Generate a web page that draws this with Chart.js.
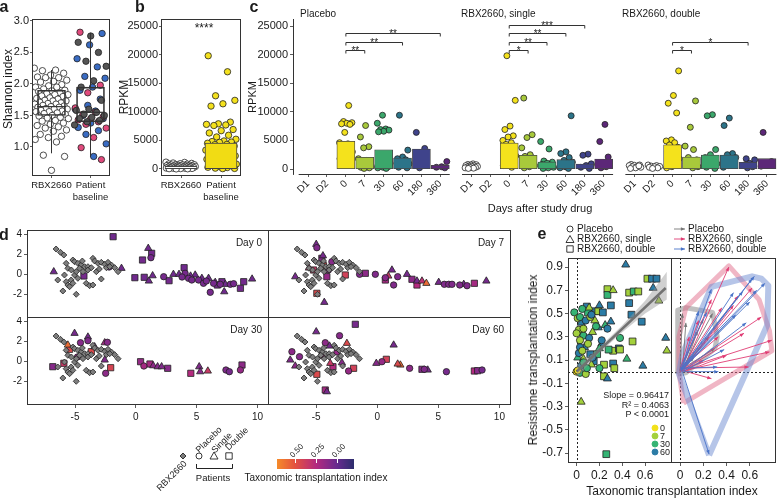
<!DOCTYPE html>
<html>
<head>
<meta charset="utf-8">
<title>RBX2660 resistome figure</title>
<script src="https://cdn.jsdelivr.net/npm/chart.js@4.4.1/dist/chart.umd.min.js"></script>
<style>
	body { margin: 0; width: 778px; height: 498px; position: relative; overflow: hidden; background: #fff; font-family: "Liberation Sans", Arial, sans-serif; color: #1a1a1a; }
	canvas { position: absolute; }
	.lbl { position: absolute; white-space: nowrap; line-height: 1; }
</style>
</head>
<body>
<script>
// ---------- panel a : Shannon index ----------
const aGroups = ['RBX2660', ['Patient', 'baseline']];
const aTicks = [1.0, 1.5, 2.0, 2.5, 3.0];
const aRbx = [2.25,2.22,2.21,2.17,2.14,2.11,2.1,2.1,2.06,2.04,2.03,1.99,1.97,1.95,1.95,1.92,1.9,1.89,1.88,1.86,1.85,1.83,1.83,1.81,1.8,1.78,1.77,1.76,1.74,1.73,1.73,1.71,1.7,1.69,1.68,1.68,1.66,1.65,1.64,1.63,1.63,1.61,1.6,1.6,1.58,1.57,1.56,1.56,1.54,1.53,1.52,1.5,1.49,1.47,1.46,1.45,1.42,1.41,1.38,1.36,1.34,1.32,1.3,1.27,1.25,1.2,1.17,1.15,1.12,1.08,0.87,0.85,0.63];
const aBlue = [2.8,2.62,2.4,2.27,2.12,2.09,1.95,1.9,1.76,1.66,1.6,1.57,1.5,1.45,1.38,1.31,1.26,1.2,1.05,0.85];
const aPink = [2.82,1.98,1.86,1.62,1.55,1.52,1.48,1.45,1.43,1.4,1.36,1.3,1.15,0.99,0.8];
const aGray = [2.76,2.66,2.5,2.36,2.28,2.05,1.95,1.74,1.6,1.58,1.55,1.52,1.5,1.47,1.45,1.42,1.4,1.35];
const aLow = [0.9, 0.84], aQ1 = [1.5, 1.4], aMed = [1.64, 1.55], aQ3 = [1.9, 1.95], aHigh = [2.22, 2.81];

// ---------- panel b : RPKM ----------
const bTicks = [0, 5000, 10000, 15000, 20000, 25000];
const bMeans = [450, 4545];
const bRbx = [1200,1150,1050,980,920,880,850,790,760,720,700,660,640,610,590,560,540,520,500,480,460,430,410,400,380,350,330,310,290,270,250,230,200,180,160,140,120,100,80,60,40,20];
const bPatient = [19800,17000,12800,12000,11400,11000,8200,7900,7800,7700,7600,6900,6700,6300,5900,5600,5200,4900,4800,4700,4650,4500,4300,4250,4000,3900,3750,3600,3550,3300,3200,3100,2900,2850,2700,2500,2450,2300,2150,2000,1950,1800,1700,1500,1450,1300,1200,1150,1000,900,850,700,600,550,400,300,250,150,100,60];

// ---------- panel c : RPKM over time ----------
const cFacets = ['Placebo', 'RBX2660, single', 'RBX2660, double'];
const cDays = ['D1', 'D2', '0', '7', '30', '60', '180', '360'];
const cDayColors = ['#ffffff', '#ffffff', '#f4e21c', '#a8c93b', '#3ba76b', '#2c7489', '#3f438b', '#5c2778'];
const cBarMeans = [
	[null, null, 4830, 2030, 3370, 1920, 3490, 640],
	[null, null, 4530, 2380, 1220, 1630, 870, 1740],
	[null, null, 4240, 2090, 2440, 2440, 1160, 1800]
];
const cPlacebo = [
	[], [],
	[11100,8300,8100,8000,7900,7800,6400,4600,4400,4200,4000,3800,3600,3300,3200,3000,2700,2500,2300,2000,1800,1600],
	[7600,5600,3900,3700,1800,1500,1300,1100,1000,900,800,600,500,400,300,200,100],
	[9400,8000,7000,6900,6800,6600,6500,1500,1300,1000,800,600,400,300,200,100],
	[9400,3300,2100,1800,1600,1200,900,600,300,200],
	[6400,3600,200],
	[1300,400,300,200]
];
const cSingle = [
	[900,800,750,700,600,550,500,450,400,350,300,250,200,150,100],
	[],
	[19800,12000,7500,6900,5800,5600,5000,4600,4300,4000,3700,3400,3000,2700,2300,2000,1600,1200,900,600,300],
	[12400,6000,5500,3700,2500,2200,1900,1600,1300,1000,800,600,400,200],
	[4800,3500,1400,1200,1000,800,700,500,300,200,100],
	[9300,3000,2700,2000,1500,1200,1000,800,600,400,200,100],
	[2600,2400,900,600,300,100],
	[7800,4800,2100,1000,700,400,200]
];
const cDouble = [
	[800,700,650,600,500,400,300,200,100,550],
	[700,600,500,450,400,300,200,100],
	[17150,12850,11500,9800,5100,4900,4600,4200,3800,3500,3000,2600,2200,1800,1400,1000,700,400,200],
	[11900,7300,4000,3400,2000,1600,1300,1000,800,600,400,200],
	[9500,9300,3400,2500,2000,1600,1200,900,600,300,100],
	[8900,7600,2700,2500,2000,1600,1200,900,600,300],
	[1800,1600,1000,700,400,200],
	[6400,1300,900,500]
];
const cBrFacet = [0, 0, 0, 1, 1, 1, 1, 2, 2];
const cBrDay = ['7', '60', '360', '7', '30', '60', '180', '7', '180'];
const cBrY = [20800, 22200, 23700, 20800, 22200, 23700, 25100, 20800, 22200];
const cBrStars = ['**', '**', '**', '*', '**', '**', '***', '*', '*'];

// ---------- panel d : ordination, [x, y, group, taxonomic transplantation index] ----------
const dRbx = [[-6.56,2.5],[-6.2,2.17],[-5.92,1.9],[-5.73,1.07],[-5.59,0.57],[-5.18,1.4],[-5.04,1.23],[-4.77,1.07],[-4.49,0.9],[-4.21,0.73],[-3.94,0.73],[-3.53,1.57],[-3.39,1.3],[-3.11,1.07],[-2.84,1.17],[-2.56,0.97],[-2.29,1.17],[-2.01,0.9],[-1.74,0.63],[-1.46,0.23],[-5.87,-0.1],[-5.73,-0.77],[-5.59,-1.1],[-6.0,-1.7],[-5.32,-0.6],[-5.04,-0.1],[-4.9,0.23],[-4.77,-0.43],[-4.63,0.57],[-4.35,0.23],[-4.08,-0.93],[-3.8,-1.17],[-3.53,-1.1],[-4.9,-2.03],[-2.84,-0.5],[-3.25,0.23],[-6.42,-0.6],[-5.45,-1.27],[-5.18,-0.93],[-3.94,0.4],[-3.66,0.63],[-2.42,0.63],[-2.15,0.73],[-4.4,1.3],[-3.0,0.5],[-5.3,0.4]];
const dDay0 = [[-1.87,3.73,'D',0.03],[-6.75,0.23,'S',0.03],[-4.27,-0.2,'D',0.05],[-1.18,0.57,'S',0.03],[-2.2,0.7,'P',0.05],[1.02,2.57,'S',0.03],[1.24,1.63,'P',0.05],[1.3,2.07,'D',0.04],[0.55,1.4,'D',0.04],[-0.08,-0.37,'D',0.03],[0.69,-0.33,'D',0.03],[1.38,-0.17,'S',0.03],[1.07,-0.7,'S',0.03],[2.29,-0.27,'P',0.05],[2.73,-0.67,'D',0.04],[3.09,-0.03,'S',0.03],[3.55,-0.03,'S',0.03],[3.97,0.63,'D',0.03],[4.05,0.07,'P',0.05],[4.33,-0.43,'P',0.05],[4.6,-0.6,'P',0.05],[4.88,-0.1,'S',0.03],[5.15,-0.6,'P',0.05],[5.43,-0.43,'S',0.03],[5.98,-0.43,'S',0.03],[5.56,-0.93,'P',0.05],[6.12,-1.83,'P',0.05],[6.39,-0.93,'P',0.05],[6.53,-0.83,'S',0.03],[6.94,-1.03,'P',0.05],[7.08,-0.77,'D',0.04],[7.27,-1.77,'S',0.03],[7.36,-1.03,'S',0.03],[7.77,-1.03,'P',0.05],[8.04,-0.97,'P',0.05],[8.6,-1.43,'D',0.04],[8.87,-0.77,'D',0.04],[9.56,-0.5,'S',0.03],[4.5,-0.2,'S',0.03],[5.8,-0.7,'P',0.05],[6.7,-1.1,'D',0.04],[3.8,-0.3,'P',0.05]];
const dDay7 = [[-5.0,2.97,'S',0.05],[-4.95,2.63,'P',0.08],[-6.72,-0.27,'S',0.05],[-4.45,1.83,'S',0.05],[-4.54,1.57,'D',0.1],[-5.22,0.4,'D',0.35],[-4.13,-0.27,'D',0.15],[-2.62,-0.1,'D',0.4],[-4.4,0.83,'D',0.45],[-3.72,1.23,'P',0.1],[-4.95,-1.93,'D',0.45],[-4.34,-2.83,'S',0.05],[-4.0,0.4,'P',0.1],[-5.6,0.6,'S',0.3],[-1.45,-0.03,'P',0.08],[-0.98,0.07,'D',0.12],[-0.16,-0.03,'P',0.08],[1.2,0.4,'S',0.05],[0.66,-0.37,'P',0.1],[0.66,-0.6,'D',0.2],[0.9,-0.2,'S',0.35],[1.34,-1.1,'P',0.08],[1.67,-0.27,'P',0.08],[2.43,-0.03,'S',0.05],[2.84,-0.53,'D',0.12],[3.25,-0.7,'S',0.05],[3.25,-1.1,'D',0.25],[3.66,-0.7,'S',0.3],[4.02,-0.93,'S',0.6],[5.03,-0.83,'S',0.05],[5.49,-1.03,'P',0.08],[5.85,-1.03,'P',0.08],[6.12,-1.03,'P',0.08],[6.75,-1.1,'P',0.08],[7.08,-1.03,'S',0.05],[7.35,-1.17,'P',0.08],[7.95,-0.93,'D',0.2],[8.93,-0.7,'S',0.05]];
const dDay30 = [[-5.04,2.77,'S',0.05],[-3.94,2.4,'S',0.05],[-3.94,2.03,'P',0.08],[-4.55,1.83,'P',0.1],[-2.56,1.83,'S',0.2],[-2.34,1.87,'P',0.1],[-5.59,1.6,'S',0.6],[-5.45,1.17,'D',0.45],[-6.83,-0.57,'D',0.1],[-5.92,-0.23,'D',0.35],[-2.56,0.1,'S',0.08],[-2.07,-0.67,'D',0.42],[-2.48,-1.23,'P',0.12],[-3.66,0.93,'D',0.45],[-3.39,1.43,'S',0.05],[-4.8,0.4,'P',0.15],[0.39,-0.07,'D',0.15],[0.66,-0.5,'P',0.2],[1.16,-0.3,'D',0.2],[1.43,-0.47,'S',0.12],[1.79,-0.57,'S',0.1],[2.12,-0.57,'S',0.08],[2.62,-0.73,'D',0.1],[4.52,-1.23,'D',0.25],[5.21,-0.57,'S',0.08],[5.29,-1.07,'S',0.1],[5.92,-1.0,'S',0.35],[7.41,-0.9,'P',0.08],[7.69,-1.07,'P',0.05],[8.73,-0.4,'D',0.12],[8.6,-0.9,'P',0.15]];
const dDay60 = [[-1.8,3.67,'D',0.05],[-5.0,2.93,'S',0.05],[-3.09,2.53,'P',0.1],[-6.99,0.93,'P',0.12],[-7.13,0.1,'S',0.08],[-6.72,-0.5,'S',0.12],[-6.37,0.43,'P',0.1],[-4.26,1.83,'P',0.12],[-3.91,1.5,'S',0.05],[-2.49,1.77,'S',0.45],[-4.95,-1.33,'D',0.45],[-4.26,-2.9,'D',0.2],[-4.13,-3.07,'S',0.05],[-2.9,-0.17,'S',0.1],[-1.94,-0.73,'D',0.4],[-2.35,-1.0,'P',0.15],[-3.63,-0.57,'D',0.25],[-3.85,-0.23,'S',0.35],[-4.5,0.6,'D',0.2],[-3.3,0.9,'P',0.15],[1.34,1.6,'S',0.05],[-0.08,-0.23,'S',0.1],[0.38,-0.07,'P',0.15],[0.74,0.17,'D',0.4],[1.89,-0.4,'S',0.6],[1.67,-0.3,'S',0.45],[2.65,-0.73,'P',0.12],[3.66,-0.83,'D',0.1],[3.85,-0.83,'P',0.08],[4.13,-0.9,'S',0.05],[5.66,-1.07,'P',0.05],[7.95,-1.0,'D',0.25],[8.22,-0.97,'D',0.1],[8.58,-0.9,'P',0.05]];
const dDayNames = ['Day 0', 'Day 7', 'Day 30', 'Day 60'];
const dXTicks = [-5, 0, 5, 10];
const dYTicks = [-2, 0, 2, 4];
const ttiStops = [[0.71, '#f58b2a'], [0.5, '#e4523f'], [0.25, '#b42a7f'], [0.0, '#672a8f'], [-0.2, '#2c2d6d']];
const ttiTicks = [0.5, 0.25, 0.0];

// ---------- panel e : transplantation indices, [taxonomic, resistome, group, day] ----------
const eDays = [0, 7, 30, 60];
const eDayColors = ['#f2e11a', '#a3d03c', '#35b474', '#2b7ca6'];
const ePts = [[0.43,0.92,'S',60],[0.62,0.80,'D',7],[0.66,0.80,'D',60],[0.27,0.71,'D',7],[0.32,0.70,'S',7],[0.27,0.66,'D',30],[0.46,0.68,'D',7],[0.50,0.69,'D',30],[0.54,0.69,'D',7],[0.67,0.72,'S',60],[0.70,0.80,'D',60],[0.72,0.61,'S',7],[-0.02,0.51,'P',30],[0.05,0.54,'P',30],[0.20,0.57,'S',60],[0.16,0.52,'D',60],[0.19,0.52,'D',7],[0.23,0.51,'D',60],[0.30,0.57,'D',60],[0.01,0.46,'P',7],[0.03,0.47,'P',30],[0.08,0.44,'P',60],[0.12,0.47,'P',7],[0.16,0.44,'S',7],[0.17,0.39,'P',30],[0.25,0.40,'S',30],[0.27,0.37,'P',60],[0.19,0.38,'S',60],[0.46,0.59,'D',60],[0.48,0.49,'D',60],[0.57,0.43,'D',60],[0.02,0.36,'P',7],[0.00,0.33,'P',7],[0.06,0.31,'P',30],[0.11,0.29,'P',60],[0.14,0.34,'S',7],[0.03,0.27,'P',7],[0.38,0.29,'P',30],[0.78,0.29,'S',60],[0.79,0.18,'S',7],[0.49,0.26,'D',7],[0.44,0.11,'S',30],[0.58,0.05,'S',60],[0.00,0.00,'P',0],[0.03,-0.01,'P',30],[0.08,-0.02,'P',7],[0.04,0.05,'P',60],[0.06,0.08,'P',30],[0.02,0.16,'P',60],[0.15,0.09,'D',60],[0.04,-0.26,'S',7],[0.26,-0.71,'D',30],[0.24,-0.04,'D',7],[0.27,-0.06,'S',60],[0.24,0.06,'D',7],[0.32,0.07,'D',60],[0.32,0.18,'D',7],[0.37,0.20,'D',60],[0.38,0.19,'D',7],[0.20,0.03,'P',30],[0.03,0.21,'P',60],[0.07,0.21,'S',60],[0.10,0.24,'P',7],[0.01,0.12,'S',30],[0.12,0.15,'D',60],[0.09,0.03,'P',30],[0.13,0.06,'S',7],[0.18,0.15,'D',30],[0.14,0.12,'P',60],[0.22,0.24,'S',60],[0.05,0.18,'P',7],[0.01,0.01,'P',0],[0.09,0.56,'D',60],[0.11,0.55,'S',7],[0.13,0.49,'P',60],[0.10,0.51,'D',30],[0.04,0.42,'S',60],[0.06,0.37,'P',7],[0.20,0.20,'S',30],[0.28,0.19,'D',30],[0.22,0.27,'P',60],[0.30,0.43,'S',60],[0.33,0.03,'D',7],[0.06,0.11,'S',7]];
const eYTicks = [-0.7, -0.5, -0.3, -0.1, 0.1, 0.3, 0.5, 0.7, 0.9];
const eXTicks = [0, 0.2, 0.4, 0.6];
const eFitX = [0, 0.78], eFitY = [0.0, 0.72];
const eBandX = [0, 0.2, 0.4, 0.6, 0.79];
const eBandLo = [-0.05, 0.16, 0.34, 0.5, 0.62];
const eBandHi = [0.05, 0.21, 0.4, 0.61, 0.86];
const eArrP = [[0.01,0.01,0.28,0.50],[0.0,0.02,0.25,0.30],[0.02,0.0,0.05,0.42],[0.0,0.0,0.02,0.50],[0.01,0.02,0.30,0.20],[0.03,0.01,0.15,0.35],[0.0,0.01,0.20,0.45],[0.02,0.03,0.12,0.12]];
const eArrS = [[0.02,0.0,0.42,0.90],[0.01,0.02,0.79,0.27],[0.03,0.01,0.77,0.17],[0.0,0.03,0.59,0.04],[0.02,0.01,0.27,-0.06],[0.01,0.0,0.50,0.65],[0.03,0.02,0.46,0.57],[0.0,0.01,0.27,0.62],[0.02,0.02,0.62,0.72],[0.04,0.0,0.40,0.14],[0.01,0.03,0.33,0.30],[0.0,0.0,0.16,0.44],[0.02,0.01,0.55,0.33],[0.03,0.0,0.20,0.10],[0.01,0.01,0.70,0.47],[0.02,0.03,0.36,0.55],[0.0,0.02,0.08,0.30]];
const eArrD = [[0.02,0.0,0.25,-0.71],[0.01,0.01,0.73,0.76],[0.0,0.02,0.64,0.82],[0.03,0.01,0.57,0.42],[0.02,0.03,0.32,0.04],[0.01,0.0,0.27,0.71],[0.02,0.01,0.46,0.68],[0.0,0.01,0.54,0.69],[0.03,0.02,0.62,0.80],[0.01,0.02,0.48,0.49],[0.02,0.0,0.38,0.19],[0.0,0.03,0.23,0.51],[0.01,0.01,0.16,0.52],[0.03,0.0,0.33,0.0],[0.02,0.02,0.60,0.60],[0.01,0.03,0.66,0.70]];
const eHullP = [[-0.02,-0.02],[-0.02,0.53],[0.05,0.55],[0.28,0.51],[0.32,0.3],[0.3,0.2],[0.05,-0.01],[-0.02,-0.02]];
const eHullS = [[0.03,-0.27],[0.79,0.18],[0.77,0.35],[0.68,0.62],[0.42,0.91],[0.05,0.55],[-0.01,0.3],[-0.01,0.0],[0.03,-0.27]];
const eHullD = [[0.25,-0.72],[0.75,0.4],[0.76,0.74],[0.7,0.8],[0.62,0.82],[0.27,0.73],[0.02,0.15],[-0.01,-0.02],[0.25,-0.72]];

// ---------- helpers ----------
const FONT = '"Liberation Sans", Arial, sans-serif';
Chart.defaults.font.family = FONT;
Chart.defaults.color = '#1a1a1a';
const FACET = 8.65;
const shapeOf = { P: 'circle', S: 'triangle', D: 'rect' };

// spread points sideways inside a category (positional only)
function spread(i, w, seed) {
	return ((((i + (seed || 0)) * 0.618034) % 1) - 0.5) * w;
}

function hexRgb(h) {
	return [1, 3, 5].map(k => parseInt(h.substr(k, 2), 16));
}

function ttiColor(v) {
	for (let k = 0; k < ttiStops.length - 1; k++) {
		const [v0, c0] = ttiStops[k], [v1, c1] = ttiStops[k + 1];
		if (v <= v0 && v >= v1) {
			const t = (v0 - v) / (v0 - v1), a = hexRgb(c0), b = hexRgb(c1);
			return 'rgb(' + a.map((x, j) => Math.round(x + (b[j] - x) * t)).join(',') + ')';
		}
	}
	return v > ttiStops[0][0] ? ttiStops[0][1] : ttiStops[ttiStops.length - 1][1];
}

function place(l, t, w, h) {
	const c = document.createElement('canvas');
	c.width = w; c.height = h;
	c.style.left = l + 'px'; c.style.top = t + 'px';
	c.style.width = w + 'px'; c.style.height = h + 'px';
	document.body.appendChild(c);
	return c.getContext('2d');
}

function label(text, x, y, size, opts) {
	const o = opts || {};
	const d = document.createElement('div');
	d.className = 'lbl';
	d.textContent = text;
	d.style.fontSize = size + 'px';
	if (o.bold) d.style.fontWeight = 'bold';
	if (o.color) d.style.color = o.color;
	d.style.left = x + 'px';
	d.style.top = y + 'px';
	const ax = o.align === 'left' ? '0' : o.align === 'right' ? '-100%' : '-50%';
	d.style.transform = 'translate(' + ax + ',-50%) rotate(' + (o.rot || 0) + 'deg)';
	document.body.appendChild(d);
}

function shape(ctx, kind, x, y, r, fill, stroke) {
	ctx.save();
	ctx.fillStyle = fill; ctx.strokeStyle = stroke; ctx.lineWidth = 0.9;
	ctx.beginPath();
	if (kind === 'circle') ctx.arc(x, y, r, 0, Math.PI * 2);
	else if (kind === 'triangle') { ctx.moveTo(x, y - r); ctx.lineTo(x + r, y + r * 0.75); ctx.lineTo(x - r, y + r * 0.75); ctx.closePath(); }
	else if (kind === 'rect') ctx.rect(x - r * 0.8, y - r * 0.8, r * 1.6, r * 1.6);
	else { ctx.moveTo(x, y - r); ctx.lineTo(x + r, y); ctx.lineTo(x, y + r); ctx.lineTo(x - r, y); ctx.closePath(); }
	ctx.fill(); ctx.stroke();
	ctx.restore();
}

function axis(o, size) {
	return {
		type: 'linear', min: o.min, max: o.max, offset: false,
		afterBuildTicks: s => { s.ticks = (o.ticks || []).map(v => ({ value: v })); },
		afterFit: s => {
			if (s.isHorizontal()) s.height = size; else s.width = size;
			s.paddingLeft = s.paddingRight = s.paddingTop = s.paddingBottom = 0;
		},
		grid: { display: !!o.tick, offset: false, drawOnChartArea: false, drawTicks: true, tickLength: o.tick || 0, color: '#333', lineWidth: 0.8 },
		border: { display: !!o.line, color: '#333', width: 1 },
		ticks: {
			display: !!o.labels, autoSkip: false, padding: o.pad === undefined ? 2 : o.pad, color: '#1a1a1a',
			font: { size: o.size || 10 }, maxRotation: o.rot || 0, minRotation: o.rot || 0,
			callback: o.fmt || (v => v)
		}
	};
}

Chart.register({
	id: 'frame',
	beforeDatasetsDraw(chart, args, o) {
		if (!o.zero) return;
		const { ctx, chartArea: a, scales } = chart;
		const x0 = Math.round(scales.x.getPixelForValue(0)) + 0.5;
		const y0 = Math.round(scales.y.getPixelForValue(0)) + 0.5;
		ctx.save();
		ctx.strokeStyle = '#222'; ctx.lineWidth = 1; ctx.setLineDash([2, 2]);
		ctx.beginPath();
		ctx.moveTo(x0, a.top); ctx.lineTo(x0, a.bottom);
		ctx.moveTo(a.left, y0); ctx.lineTo(a.right, y0);
		ctx.stroke();
		ctx.restore();
	},
	afterDatasetsDraw(chart, args, o) {
		if (!o.box) return;
		const { ctx, chartArea: a } = chart;
		ctx.save();
		ctx.strokeStyle = '#333'; ctx.lineWidth = 1;
		ctx.strokeRect(Math.round(a.left) + 0.5, Math.round(a.top) + 0.5, Math.round(a.right - a.left) - 1, Math.round(a.bottom - a.top) - 1);
		ctx.restore();
	}
});

function makeChart(box, area, xOpt, yOpt, datasets, frame, plugins) {
	const [bl, bt, bw, bh] = box;
	const [al, at, ar, ab] = area;
	const ctx = place(bl, bt, bw, bh);
	return new Chart(ctx, {
		type: 'scatter',
		data: { datasets },
		options: {
			responsive: false,
			animation: false,
			events: [],
			layout: { autoPadding: false, padding: { left: 0, bottom: 0, top: at - bt, right: bl + bw - ar } },
			scales: { x: axis(xOpt, bt + bh - ab), y: axis(yOpt, al - bl) },
			plugins: { legend: { display: false }, tooltip: { enabled: false }, frame: frame || {} }
		},
		plugins: plugins || []
	});
}

function pointSet(data, color, style, radius) {
	return {
		type: 'scatter', data,
		pointStyle: style || 'circle', pointRadius: radius || 3.2,
		backgroundColor: color, borderColor: '#222', borderWidth: 0.8
	};
}

function segment(x0, y0, x1, y1, color, width) {
	return {
		type: 'line', data: [{ x: x0, y: y0 }, { x: x1, y: y1 }],
		borderColor: color || '#333', borderWidth: width || 1, pointRadius: 0, fill: false
	};
}

// ---------- panel a ----------
const aSets = [];
aQ1.forEach((q, i) => {
	aSets.push(segment(i + 1, aLow[i], i + 1, q));
	aSets.push(segment(i + 1, aQ3[i], i + 1, aHigh[i]));
});
aSets.push({
	type: 'bar', grouped: false, barThickness: 28, borderSkipped: false,
	data: aQ1.map((q, i) => ({ x: i + 1, y: [q, aQ3[i]] })),
	backgroundColor: 'rgba(255,255,255,0)', borderColor: '#333', borderWidth: 1
});
aMed.forEach((m, i) => aSets.push(segment(i + 0.63, m, i + 1.37, m, '#333', 1.2)));
aSets.push(pointSet(aRbx.map((v, i) => ({ x: 1 + spread(i, 0.88), y: v })), '#ffffff'));
const aPat = [], aPatCol = [];
[[aBlue, '#3a6cc3'], [aPink, '#e04a7c'], [aGray, '#555555']].forEach(([vals, col], g) => {
	vals.forEach((v, i) => { aPat.push({ x: 2 + spread(i, 0.84, g * 7 + 3), y: v }); aPatCol.push(col); });
});
aSets.push(pointSet(aPat, aPatCol));
makeChart([0, 0, 116, 215], [32, 19, 110, 176],
	{ min: 0.5, max: 2.5, ticks: [1, 2], tick: 2, labels: true, size: 9.5, pad: 2, fmt: v => aGroups[Math.round(v) - 1] },
	{ min: 0.54, max: 3.03, ticks: aTicks, tick: 2, labels: true, size: 11, pad: 1, fmt: v => v.toFixed(1) },
	aSets, { box: true });

// ---------- panel b ----------
const bSets = [
	{
		type: 'bar', grouped: false, barThickness: 32, borderSkipped: false,
		data: bMeans.map((m, i) => ({ x: i + 1, y: m })),
		backgroundColor: ['#ffffff', '#f1dc14'], borderColor: '#444', borderWidth: 1
	},
	pointSet(bRbx.map((v, i) => ({ x: 1 + spread(i, 0.75), y: v })), '#ffffff'),
	pointSet(bPatient.map((v, i) => ({ x: 2 + spread(i, 0.78, 5), y: v })), '#f4e11d')
];
makeChart([116, 0, 130, 215], [161, 19, 241, 176],
	{ min: 0.5, max: 2.5, ticks: [1, 2], tick: 2, labels: true, size: 9.5, pad: 2, fmt: v => aGroups[Math.round(v) - 1] },
	{ min: -1224, max: 26224, ticks: bTicks, tick: 2, labels: true, size: 11, pad: 1, fmt: v => String(v) },
	bSets, { box: true });

// ---------- panel c ----------
const cSets = [];
const cXTicks = [];
cFacets.forEach((f, fi) => cDays.forEach((d, i) => cXTicks.push(fi * FACET + i)));
cBarMeans.forEach((means, fi) => {
	const data = [], cols = [];
	means.forEach((m, i) => { if (m !== null) { data.push({ x: fi * FACET + i, y: m }); cols.push(cDayColors[i]); } });
	cSets.push({
		type: 'bar', grouped: false, barThickness: 18, borderSkipped: false,
		data, backgroundColor: cols, borderColor: '#444', borderWidth: 0.8
	});
});
[cPlacebo, cSingle, cDouble].forEach((facet, fi) => {
	const data = [], cols = [];
	facet.forEach((vals, i) => vals.forEach((v, k) => {
		data.push({ x: fi * FACET + i + spread(k, 0.72, i * 3 + fi), y: v });
		cols.push(cDayColors[i]);
	}));
	cSets.push(pointSet(data, cols, 'circle', 3));
});
const cDecor = {
	id: 'cDecor',
	afterDatasetsDraw(chart) {
		const { ctx, chartArea: a, scales: { x, y } } = chart;
		ctx.save();
		ctx.strokeStyle = '#333'; ctx.fillStyle = '#1a1a1a'; ctx.lineWidth = 1;
		const yb = Math.round(a.bottom) + 0.5;
		cFacets.forEach((f, fi) => {
			ctx.beginPath();
			ctx.moveTo(x.getPixelForValue(fi * FACET - 0.5), yb);
			ctx.lineTo(x.getPixelForValue(fi * FACET + 7.5), yb);
			ctx.stroke();
		});
		ctx.font = '10px ' + FONT; ctx.textAlign = 'center';
		cBrFacet.forEach((fi, k) => {
			const x0 = x.getPixelForValue(fi * FACET + 2);
			const x1 = x.getPixelForValue(fi * FACET + cDays.indexOf(cBrDay[k]));
			const yy = Math.round(y.getPixelForValue(cBrY[k])) + 0.5;
			ctx.beginPath();
			ctx.moveTo(x0, yy + 3); ctx.lineTo(x0, yy); ctx.lineTo(x1, yy); ctx.lineTo(x1, yy + 3);
			ctx.stroke();
			ctx.fillText(cBrStars[k], (x0 + x1) / 2, yy + 3);
		});
		ctx.restore();
	}
};
makeChart([250, 0, 528, 215], [293, 19, 777, 174],
	{ min: -0.8, max: 24.83, ticks: cXTicks, tick: 3, labels: true, size: 10, pad: 1, rot: 45, fmt: (v, i) => cDays[i % 8] },
	{ min: -874, max: 26224, ticks: bTicks, tick: 3, labels: true, size: 11, pad: 2, line: true, fmt: v => String(v) },
	cSets, {}, [cDecor]);

// ---------- panel d ----------
function dSets(pts) {
	const sets = [pointSet(dRbx.map(p => ({ x: p[0], y: p[1] })), '#7d7d7d', 'rectRot', 3)];
	['P', 'S', 'D'].forEach(g => {
		const sel = pts.filter(p => p[2] === g);
		const r = g === 'P' ? 3.2 : g === 'S' ? 4.2 : 4.4;
		sets.push(pointSet(sel.map(p => ({ x: p[0], y: p[1] })), sel.map(p => ttiColor(p[3])), shapeOf[g], r));
	});
	return sets;
}
function dayTag(name) {
	return {
		id: 'dayTag',
		afterDatasetsDraw(chart) {
			const { ctx, chartArea: a } = chart;
			ctx.save();
			ctx.font = '10px ' + FONT; ctx.fillStyle = '#1a1a1a'; ctx.textAlign = 'right';
			ctx.fillText(name, a.right - 7, a.top + 16);
			ctx.restore();
		}
	};
}
const dLegend = {
	id: 'dLegend',
	afterDraw(chart) {
		const ctx = chart.ctx, oy = 317;
		shape(ctx, 'diamond', 183, 456 - oy, 3, '#7d7d7d', '#222');
		shape(ctx, 'circle', 199, 456 - oy, 3, '#fff', '#222');
		shape(ctx, 'triangle', 214, 456 - oy, 4, '#fff', '#222');
		shape(ctx, 'rect', 229, 456 - oy, 4, '#fff', '#222');
		ctx.save();
		ctx.strokeStyle = '#222'; ctx.lineWidth = 1;
		ctx.beginPath();
		ctx.moveTo(196.5, 464 - oy); ctx.lineTo(196.5, 468.5 - oy); ctx.lineTo(232.5, 468.5 - oy); ctx.lineTo(232.5, 464 - oy);
		ctx.stroke();
		const bx = 277, bw = 77, top = ttiStops[0][0], bot = ttiStops[ttiStops.length - 1][0];
		const g = ctx.createLinearGradient(bx, 0, bx + bw, 0);
		ttiStops.forEach(([v, c]) => g.addColorStop((top - v) / (top - bot), c));
		ctx.fillStyle = g;
		ctx.fillRect(bx, 459 - oy, bw, 10);
		ctx.strokeStyle = '#fff';
		ttiTicks.forEach(v => {
			const tx = Math.round(bx + (top - v) / (top - bot) * bw) + 0.5;
			ctx.beginPath(); ctx.moveTo(tx, 459 - oy); ctx.lineTo(tx, 463 - oy); ctx.stroke();
		});
		ctx.restore();
	}
};
const dX = { min: -8.95, max: 10.95 }, dY = { min: -4.4, max: 4.4 };
makeChart([0, 225, 270, 93], [27, 230, 269, 318],
	{ ...dX, ticks: [] }, { ...dY, ticks: dYTicks, tick: 3, labels: true, size: 10, pad: 2 },
	dSets(dDay0), { box: true }, [dayTag(dDayNames[0])]);
makeChart([268, 225, 250, 93], [268, 230, 511, 318],
	{ ...dX, ticks: [] }, { ...dY, ticks: [] },
	dSets(dDay7), { box: true }, [dayTag(dDayNames[1])]);
makeChart([0, 317, 360, 181], [27, 317, 269, 405],
	{ ...dX, ticks: dXTicks, tick: 3, labels: true, size: 10, pad: 3 }, { ...dY, ticks: dYTicks, tick: 3, labels: true, size: 10, pad: 2 },
	dSets(dDay30), { box: true }, [dayTag(dDayNames[2]), dLegend]);
makeChart([268, 317, 250, 111], [268, 317, 511, 405],
	{ ...dX, ticks: dXTicks, tick: 3, labels: true, size: 10, pad: 3 }, { ...dY, ticks: [] },
	dSets(dDay60), { box: true }, [dayTag(dDayNames[3])]);

// ---------- panel e ----------
const eSets = [
	{ type: 'line', data: eBandX.map((x, i) => ({ x, y: eBandLo[i] })), borderWidth: 0, pointRadius: 0, fill: false },
	{ type: 'line', data: eBandX.map((x, i) => ({ x, y: eBandHi[i] })), borderWidth: 0, pointRadius: 0, fill: '-1', backgroundColor: 'rgba(150,150,150,0.45)' },
	segment(eFitX[0], eFitY[0], eFitX[1], eFitY[1], '#555', 2.6)
];
['P', 'S', 'D'].forEach(g => {
	const sel = ePts.filter(p => p[2] === g);
	const r = g === 'P' ? 3.6 : g === 'S' ? 4.6 : 4.8;
	eSets.push(pointSet(sel.map(p => ({ x: p[0], y: p[1] })), sel.map(p => eDayColors[eDays.indexOf(p[3])]), shapeOf[g], r));
});
const eLegend = {
	id: 'eLegend',
	afterDraw(chart) {
		const ctx = chart.ctx, ox = 520, oy = 215;
		shape(ctx, 'circle', 570 - ox, 229 - oy, 3, '#fff', '#222');
		shape(ctx, 'triangle', 570 - ox, 239.5 - oy, 4, '#fff', '#222');
		shape(ctx, 'rect', 570 - ox, 249 - oy, 4, '#fff', '#222');
		eDays.forEach((d, i) => shape(ctx, 'circle', 655 - ox, 428 + i * 8 - oy, 3, eDayColors[i], eDayColors[i]));
	}
};
const eFmt = v => (Math.abs(v) < 1e-9 ? '0' : v.toFixed(1));
makeChart([520, 215, 155, 283], [568, 258, 672, 463],
	{ min: -0.075, max: 0.835, ticks: eXTicks, tick: 3, labels: true, size: 12, pad: 2, fmt: eFmt },
	{ min: -0.786, max: 0.978, ticks: eYTicks, tick: 3, labels: true, size: 12, pad: 2, fmt: eFmt },
	eSets, { box: true, zero: true }, [eLegend]);

function arrow(ctx, x0, y0, x1, y1, col) {
	const ang = Math.atan2(y1 - y0, x1 - x0), h = 4.5;
	ctx.strokeStyle = col; ctx.fillStyle = col; ctx.lineWidth = 0.9;
	ctx.beginPath(); ctx.moveTo(x0, y0); ctx.lineTo(x1, y1); ctx.stroke();
	ctx.beginPath(); ctx.moveTo(x1, y1);
	ctx.lineTo(x1 - h * Math.cos(ang - 0.4), y1 - h * Math.sin(ang - 0.4));
	ctx.lineTo(x1 - h * Math.cos(ang + 0.4), y1 - h * Math.sin(ang + 0.4));
	ctx.closePath(); ctx.fill();
}
const arrowCols = ['#777777', '#e03c74', '#4a74c8'];
const eArrows = {
	id: 'eArrows',
	afterDatasetsDraw(chart) {
		const { ctx, chartArea: a, scales: { x, y } } = chart;
		ctx.save();
		ctx.beginPath(); ctx.rect(a.left, a.top, a.width, a.height); ctx.clip();
		[eArrP, eArrS, eArrD].forEach((list, g) => list.forEach(([x0, y0, x1, y1]) => {
			arrow(ctx, x.getPixelForValue(x0), y.getPixelForValue(y0), x.getPixelForValue(x1), y.getPixelForValue(y1), arrowCols[g]);
		}));
		ctx.restore();
		ctx.save();
		arrowCols.forEach((c, g) => arrow(ctx, 3, 14 + g * 10, 14, 14 + g * 10, c));
		ctx.restore();
	}
};
const hullSet = (pts, col, w) => ({
	type: 'line', data: pts.map(p => ({ x: p[0], y: p[1] })),
	borderColor: col, borderWidth: w, pointRadius: 0, fill: false, borderJoinStyle: 'round', tension: 0
});
makeChart([671, 215, 107, 283], [671, 258, 776, 463],
	{ min: -0.078, max: 0.826, ticks: eXTicks, tick: 3, labels: true, size: 12, pad: 2, fmt: eFmt },
	{ min: -0.786, max: 0.978, ticks: [] },
	[hullSet(eHullD, 'rgba(110,140,210,0.5)', 6), hullSet(eHullS, 'rgba(226,110,140,0.5)', 5), hullSet(eHullP, 'rgba(140,140,140,0.55)', 5)],
	{ box: true, zero: true }, [eArrows]);

// ---------- text ----------
label('a', 4, 6.5, 16, { bold: true });
label('b', 140, 6.5, 16, { bold: true });
label('c', 254, 6.5, 16, { bold: true });
label('d', 4, 234.5, 16, { bold: true });
label('e', 542, 233.5, 16, { bold: true });
label('Shannon index', 8, 89, 12, { rot: -90 });
label('RPKM', 124, 97, 12, { rot: -90 });
label('RPKM', 252, 97, 11, { rot: -90 });
label('****', 204, 28, 12);
cFacets.forEach((f, i) => label(f, [300, 461, 622][i], 14, 10, { align: 'left' }));
label('Days after study drug', 540, 208, 11);
label('RBX2660', 172, 476, 9, { rot: -45 });
label('Placebo', 209, 440, 9, { rot: -45 });
label('Single', 222, 443, 9, { rot: -45 });
label('Double', 237, 439, 9, { rot: -45 });
label('Patients', 213, 478, 9.5);
ttiTicks.forEach((v, i) => label(v.toFixed(2), [297, 318, 339][i], 451, 8, { rot: -45 }));
label('Taxonomic transplantation index', 316, 478, 10);
label('Placebo', 577, 229, 10, { align: 'left' });
label('RBX2660, single', 577, 239, 10, { align: 'left' });
label('RBX2660, double', 577, 249, 10, { align: 'left' });
label('Placebo', 688, 229, 10, { align: 'left' });
label('RBX2660, single', 688, 239, 10, { align: 'left' });
label('RBX2660, double', 688, 249, 10, { align: 'left' });
label('Slope = 0.96417', 669, 395, 9, { align: 'right' });
label('R² = 0.4063', 669, 405, 9, { align: 'right' });
label('P < 0.0001', 669, 414, 9, { align: 'right' });
eDays.forEach((d, i) => label(String(d), 660, 428 + i * 8, 9, { align: 'left' }));
label('Resistome transplantation index', 533, 360, 12, { rot: -90 });
label('Taxonomic transplantation index', 672, 491, 12);
</script>
</body>
</html>
